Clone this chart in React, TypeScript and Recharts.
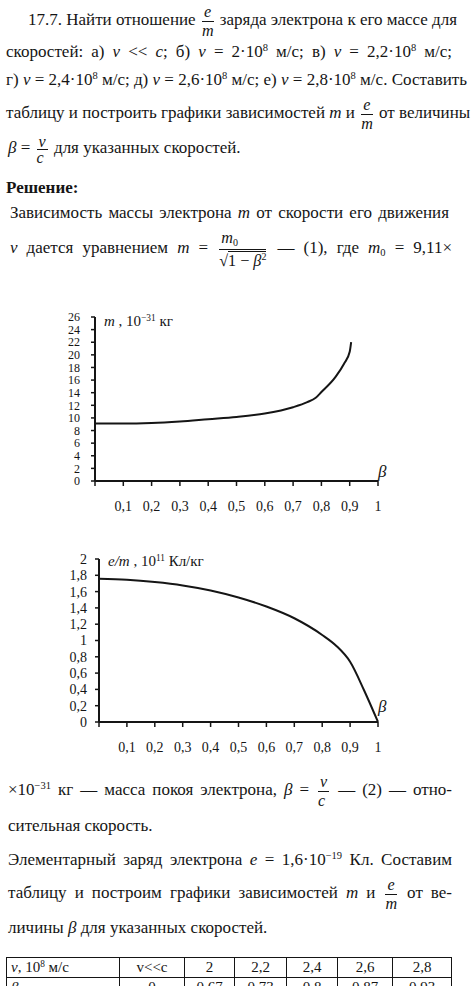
import React from 'react';
import { LineChart, Line, XAxis, YAxis } from 'recharts';

// chart 1: m(β), 10^-31 кг
const betaMass = [0, 0.1, 0.2, 0.3, 0.4, 0.5, 0.6, 0.7, 0.75, 0.78, 0.8, 0.85, 0.88, 0.9, 0.905];
const massValues = [9.1, 9.1, 9.2, 9.45, 9.8, 10.15, 10.7, 11.7, 12.5, 13.2, 14.1, 16.5, 18.6, 20.5, 22.0];
const massTicks = [0, 2, 4, 6, 8, 10, 12, 14, 16, 18, 20, 22, 24, 26];

// chart 2: e/m(β), 10^11 Кл/кг
const betaCharge = [0, 0.1, 0.2, 0.3, 0.4, 0.5, 0.6, 0.7, 0.8, 0.85, 0.9, 0.95, 1];
const chargeValues = [1.758, 1.745, 1.717, 1.676, 1.614, 1.528, 1.417, 1.273, 1.068, 0.936, 0.739, 0.39, 0];
const chargeTicks = [0, 0.2, 0.4, 0.6, 0.8, 1, 1.2, 1.4, 1.6, 1.8, 2];

const betaTicks = [0, 0.1, 0.2, 0.3, 0.4, 0.5, 0.6, 0.7, 0.8, 0.9, 1];

// table
const tableHead = ['v<<c', '2', '2,2', '2,4', '2,6', '2,8'];
const tableBeta = ['0', '0,67', '0,73', '0,8', '0,87', '0,93'];
const colWidths = [113, 65, 50, 52, 51, 55, 59];

const massData = betaMass.map((b, i) => ({ b, v: massValues[i] }));
const chargeData = betaCharge.map((b, i) => ({ b, v: chargeValues[i] }));

const INK = '#151515';
const SERIF = 'Liberation Serif, Times New Roman, Tinos, DejaVu Serif, Noto Serif, serif';
const comma = (v: number) => String(v).replace('.', ',');

const I = ({ children }: { children: React.ReactNode }) => <i>{children}</i>;
const Sup = ({ children }: { children: React.ReactNode }) => (
  <span style={{ fontSize: '0.62em', position: 'relative', top: '-0.55em', lineHeight: 0 }}>{children}</span>
);
const Sub = ({ children }: { children: React.ReactNode }) => (
  <span style={{ fontSize: '0.62em', position: 'relative', top: '0.3em', lineHeight: 0 }}>{children}</span>
);

const Frac = ({ n, d, gap = 16 }: { n: React.ReactNode; d: React.ReactNode; gap?: number }) => (
  <span
    style={{
      display: 'inline-block',
      verticalAlign: 'middle',
      textAlign: 'center',
      lineHeight: gap + 'px',
      margin: '-12px 2px',
      fontSize: '0.95em',
    }}
  >
    <span style={{ display: 'block', borderBottom: '1px solid ' + INK, padding: '0 2px' }}>{n}</span>
    <span style={{ display: 'block' }}>{d}</span>
  </span>
);

const TextLine = ({
  left,
  right,
  y,
  justify = true,
  children,
  style,
}: {
  left: number;
  right?: number;
  y: number;
  justify?: boolean;
  children: React.ReactNode;
  style?: React.CSSProperties;
}) => (
  <div
    style={{
      position: 'absolute',
      left,
      width: right ? right - left : undefined,
      top: y - 10,
      height: 20,
      lineHeight: '20px',
      fontSize: 17,
      whiteSpace: 'nowrap',
      textAlign: justify ? 'justify' : 'left',
      textAlignLast: justify ? 'justify' : 'left',
      ...style,
    }}
  >
    {children}
  </div>
);

const axisProps = {
  axisLine: { stroke: INK, strokeWidth: 2 },
  tickLine: { stroke: INK, strokeWidth: 1.5 },
};

const MassChart = () => (
  <LineChart width={472} height={220} data={massData} margin={{ top: 17, right: 94, bottom: 9, left: 0 }}>
    <XAxis
      type="number"
      dataKey="b"
      domain={[0, 1]}
      ticks={betaTicks}
      interval={0}
      height={30}
      tickSize={5}
      tickMargin={15}
      tickFormatter={(v: number) => (v === 0 ? '' : comma(v))}
      tick={{ fill: INK, fontSize: 14, fontFamily: SERIF }}
      {...axisProps}
    />
    <YAxis
      type="number"
      domain={[0, 26]}
      ticks={massTicks}
      interval={0}
      width={95}
      tickSize={4}
      tickMargin={11}
      tick={{ fill: INK, fontSize: 12, fontFamily: SERIF }}
      {...axisProps}
    />
    <Line type="monotone" dataKey="v" stroke={INK} strokeWidth={2} dot={false} isAnimationActive={false} />
  </LineChart>
);

const ChargeChart = () => (
  <LineChart width={472} height={220} data={chargeData} margin={{ top: 19, right: 94, bottom: 8, left: 0 }}>
    <XAxis
      type="number"
      dataKey="b"
      domain={[0, 1]}
      ticks={betaTicks}
      interval={0}
      height={30}
      tickSize={5}
      tickMargin={15}
      tickFormatter={(v: number) => (v === 0 ? '' : comma(v))}
      tick={{ fill: INK, fontSize: 14, fontFamily: SERIF }}
      {...axisProps}
    />
    <YAxis
      type="number"
      domain={[0, 2]}
      ticks={chargeTicks}
      interval={0}
      width={99}
      tickSize={4}
      tickMargin={8}
      tickFormatter={(v: number) => comma(v)}
      tick={{ fill: INK, fontSize: 14, fontFamily: SERIF }}
      {...axisProps}
    />
    <Line type="monotone" dataKey="v" stroke={INK} strokeWidth={2} dot={false} isAnimationActive={false} />
  </LineChart>
);

const Label = ({ x, y, children, size = 15 }: { x: number; y: number; children: React.ReactNode; size?: number }) => (
  <div style={{ position: 'absolute', left: x, top: y - 10, lineHeight: '20px', fontSize: size, whiteSpace: 'nowrap' }}>
    {children}
  </div>
);

const Table = () => {
  const cell: React.CSSProperties = {
    border: '1px solid ' + INK,
    height: 19,
    padding: '0 4px',
    fontSize: 15,
    lineHeight: '19px',
    textAlign: 'center',
  };
  return (
    <table
      style={{
        position: 'absolute',
        left: 6,
        top: 957,
        borderCollapse: 'collapse',
        tableLayout: 'fixed',
        fontFamily: SERIF,
        color: INK,
      }}
    >
      <colgroup>
        {colWidths.map((w, i) => (
          <col key={i} style={{ width: w }} />
        ))}
      </colgroup>
      <tbody>
        <tr>
          <td style={{ ...cell, textAlign: 'left' }}>
            <I>v</I>, 10<Sup>8</Sup> м/с
          </td>
          {tableHead.map((t) => (
            <td key={t} style={cell}>{t}</td>
          ))}
        </tr>
        <tr>
          <td style={{ ...cell, textAlign: 'left' }}>
            <I>β</I>
          </td>
          {tableBeta.map((t) => (
            <td key={t} style={cell}>{t}</td>
          ))}
        </tr>
      </tbody>
    </table>
  );
};

export default function App() {
  return (
    <div
      style={{
        position: 'absolute',
        left: 0,
        top: 0,
        width: 472,
        height: 986,
        overflow: 'hidden',
        background: '#fff',
        color: INK,
        fontFamily: SERIF,
      }}
    >
      <TextLine left={28} right={452} y={20}>
        17.7. Найти отношение <Frac n={<I>e</I>} d={<I>m</I>} gap={18} /> заряда электрона к его массе для
      </TextLine>
      <TextLine left={6} right={452} y={52}>
        скоростей: а) <I>v</I> &lt;&lt; <I>c</I>; б) <I>v</I> = 2·10<Sup>8</Sup> м/с; в) <I>v</I> = 2,2·10
        <Sup>8</Sup> м/с;
      </TextLine>
      <TextLine left={6} right={452} y={80}>
        г) <I>v</I> = 2,4·10<Sup>8</Sup> м/с; д) <I>v</I> = 2,6·10<Sup>8</Sup> м/с; е) <I>v</I> = 2,8·10
        <Sup>8</Sup> м/с. Составить
      </TextLine>
      <TextLine left={6} right={452} y={113}>
        таблицу и построить графики зависимостей <I>m</I> и <Frac n={<I>e</I>} d={<I>m</I>} gap={18} /> от величины
      </TextLine>
      <TextLine left={8} y={148} justify={false}>
        <I>β</I> = <Frac n={<I>v</I>} d={<I>c</I>} gap={15} /> для указанных скоростей.
      </TextLine>
      <TextLine left={6} y={188} justify={false} style={{ fontWeight: 'bold' }}>
        Решение:
      </TextLine>
      <TextLine left={10} right={449} y={213}>
        Зависимость массы электрона <I>m</I> от скорости его движения
      </TextLine>
      <TextLine left={10} right={452} y={248}>
        <I>v</I> дается уравнением <I>m</I> ={' '}
        <Frac
          n={
            <>
              <I>m</I>
              <Sub>0</Sub>
            </>
          }
          d={
            <>
              √<span style={{ borderTop: '1px solid ' + INK }}>1 − <I>β</I><Sup>2</Sup></span>
            </>
          }
          gap={22}
        />{' '}
        — (1), где <I>m</I>
        <Sub>0</Sub> = 9,11×
      </TextLine>

      <div style={{ position: 'absolute', left: 0, top: 300 }}>
        <MassChart />
      </div>
      <Label x={104} y={321}>
        <I>m</I> , 10<Sup>−31</Sup> кг
      </Label>
      <Label x={378} y={472} size={17}>
        <I>β</I>
      </Label>

      <div style={{ position: 'absolute', left: 0, top: 540 }}>
        <ChargeChart />
      </div>
      <Label x={108} y={561}>
        <I>e/m</I> , 10<Sup>11</Sup> Кл/кг
      </Label>
      <Label x={378} y={707} size={17}>
        <I>β</I>
      </Label>

      <TextLine left={8} right={452} y={790}>
        ×10<Sup>−31</Sup> кг — масса покоя электрона, <I>β</I> = <Frac n={<I>v</I>} d={<I>c</I>} gap={18} /> — (2) — отно-
      </TextLine>
      <TextLine left={8} y={826} justify={false}>
        сительная скорость.
      </TextLine>
      <TextLine left={8} right={452} y={860}>
        Элементарный заряд электрона <I>e</I> = 1,6·10<Sup>−19</Sup> Кл. Составим
      </TextLine>
      <TextLine left={8} right={452} y={893}>
        таблицу и построим графики зависимостей <I>m</I> и <Frac n={<I>e</I>} d={<I>m</I>} gap={18} /> от ве-
      </TextLine>
      <TextLine left={8} y={928} justify={false}>
        личины <I>β</I> для указанных скоростей.
      </TextLine>

      <Table />
    </div>
  );
}
